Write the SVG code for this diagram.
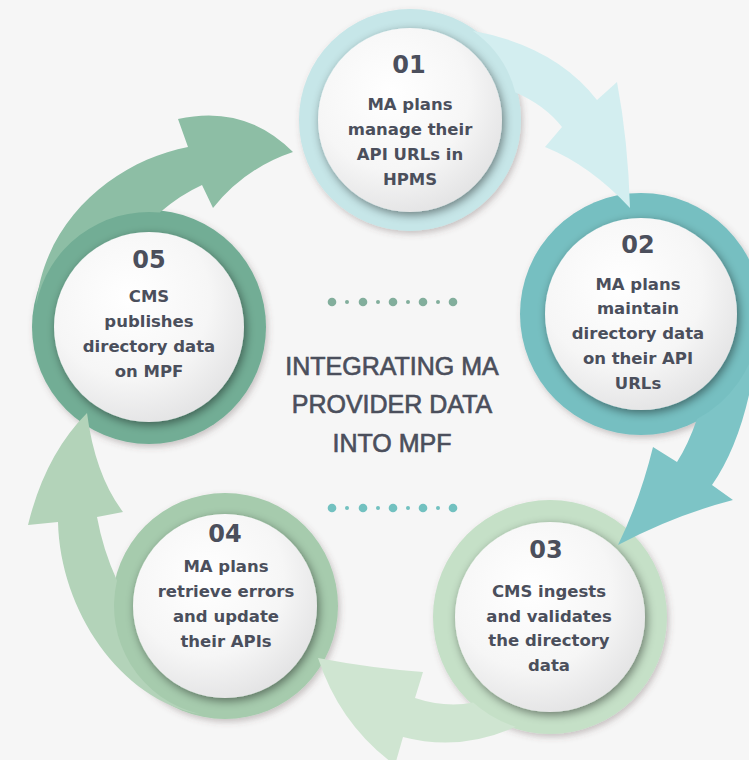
<svg xmlns="http://www.w3.org/2000/svg" width="749" height="760" viewBox="0 0 749 760">
<style>
.t{font-family:"DejaVu Sans","Open Sans",sans-serif;font-weight:bold;fill:#4b4f5c;text-anchor:middle;font-size:16.5px}
.n{font-size:24px}
.title{font-family:"Liberation Sans",Arial,sans-serif;font-size:25px;fill:#4b4f5c;stroke:#4b4f5c;stroke-width:0.65;text-anchor:middle}
.white{fill:url(#wg);filter:url(#innerSh)}
.ring{filter:url(#ringSh)}
</style>
<defs>
<radialGradient id="wg" cx="40%" cy="35%" r="70%">
<stop offset="0" stop-color="#ffffff"/>
<stop offset="0.6" stop-color="#f6f6f6"/>
<stop offset="1" stop-color="#e2e2e3"/>
</radialGradient>
<filter id="ringSh" x="-20%" y="-20%" width="140%" height="140%">
<feDropShadow dx="2" dy="3" stdDeviation="3" flood-color="#5a4a4a" flood-opacity="0.3"/>
</filter>
<filter id="innerSh" x="-20%" y="-20%" width="140%" height="140%">
<feDropShadow dx="2" dy="3" stdDeviation="5" flood-color="#000000" flood-opacity="0.45"/>
</filter>
</defs>
<rect width="749" height="760" fill="#f6f6f6"/>

<g id="title">
<g fill="#82ae9c">
<circle cx="332" cy="302" r="4.3"/><circle cx="347" cy="302" r="2"/><circle cx="363" cy="302" r="4.3"/><circle cx="378" cy="302" r="2"/><circle cx="393" cy="302" r="4.3"/><circle cx="408" cy="302" r="2"/><circle cx="423" cy="302" r="4.3"/><circle cx="438" cy="302" r="2"/><circle cx="453" cy="302" r="4.3"/>
</g>
<text class="title" x="392" y="375">INTEGRATING MA</text>
<text class="title" x="392" y="413">PROVIDER DATA</text>
<text class="title" x="392" y="452">INTO MPF</text>
<g fill="#72c1c0">
<circle cx="332" cy="508" r="4.3"/><circle cx="347" cy="508" r="2"/><circle cx="363" cy="508" r="4.3"/><circle cx="378" cy="508" r="2"/><circle cx="393" cy="508" r="4.3"/><circle cx="408" cy="508" r="2"/><circle cx="423" cy="508" r="4.3"/><circle cx="438" cy="508" r="2"/><circle cx="453" cy="508" r="4.3"/>
</g>
</g>

<g id="node-05">
<circle class="ring" cx="149" cy="327" r="117" fill="#72ad95"/>
<circle class="white" cx="149" cy="327" r="95"/>
<text class="t n" x="149" y="268">05</text>
<text class="t" x="149" y="302">CMS</text>
<text class="t" x="149" y="327">publishes</text>
<text class="t" x="149" y="352">directory data</text>
<text class="t" x="149" y="377">on MPF</text>
</g>

<g id="node-04">
<circle class="ring" cx="225" cy="606" r="113" fill="#a6cbad"/>
<circle class="white" cx="225" cy="606" r="92"/>
<text class="t n" x="225" y="542">04</text>
<text class="t" x="226" y="572">MA plans</text>
<text class="t" x="226" y="597">retrieve errors</text>
<text class="t" x="226" y="622">and update</text>
<text class="t" x="226" y="647">their APIs</text>
</g>

<g id="node-03">
<circle class="ring" cx="550" cy="617" r="117" fill="#c5e0c7"/>
<circle class="white" cx="550" cy="617" r="95"/>
<text class="t n" x="546" y="558">03</text>
<text class="t" x="549" y="597">CMS ingests</text>
<text class="t" x="549" y="622">and validates</text>
<text class="t" x="549" y="646">the directory</text>
<text class="t" x="549" y="671">data</text>
</g>

<g id="node-02">
<circle class="ring" cx="641" cy="314" r="121" fill="#76bfc1"/>
<circle class="white" cx="641" cy="314" r="96"/>
<text class="t n" x="638" y="253">02</text>
<text class="t" x="638" y="290">MA plans</text>
<text class="t" x="638" y="314">maintain</text>
<text class="t" x="638" y="339">directory data</text>
<text class="t" x="638" y="364">on their API</text>
<text class="t" x="638" y="389">URLs</text>
</g>

<g id="node-01">
<circle class="ring" cx="410" cy="120" r="111" fill="#c6e6e8"/>
<circle class="white" cx="410" cy="120" r="92"/>
<text class="t n" x="409" y="73">01</text>
<text class="t" x="410" y="110">MA plans</text>
<text class="t" x="410" y="135">manage their</text>
<text class="t" x="410" y="160">API URLs in</text>
<text class="t" x="410" y="185">HPMS</text>
</g>

<g id="connectors">
<path id="a01-02" fill="#d3eef0" d="M472.7,30.8 Q555,46 597,100 L617,82 Q628,140 630,208 Q590,165 545,147 L562,127 Q545,105 515.4,92.4 A109,109 0 0 0 472.7,30.8 Z"/>
<path id="a02-03" fill="#7dc4c6" d="M697,419 Q688,445 677,462 L653,447 Q640,500 618,545 Q675,515 733,500 L712,485 Q750,430 758.9,329.9 A119,119 0 0 1 697,419 Z"/>
<path id="a03-04" fill="#cfe5d1" d="M473.2,702.6 Q445,708 415,698 L423,672 Q370,668 318,658 Q340,725 395,765 L403,737 Q460,752 515.7,726.8 A115,115 0 0 1 473.2,702.6 Z"/>
<path id="a04-05" fill="#b3d3b9" d="M123,512 L97,517 Q103,550 117,580.5 A111,111 0 0 0 200.4,714.2 C120,700 60,610 58,522 L28,525 Q45,455 87,413 Q95,475 123,512 Z"/>
<path id="a05-01" fill="#8dbea5" d="M293,152 Q245,104 178,119 L188,147 C120,160 45,215 36,305.6 A115,115 0 0 1 159.8,212.5 Q180,195 202,185 L213,208 Q245,168 293,152 Z"/>
</g>
</svg>
